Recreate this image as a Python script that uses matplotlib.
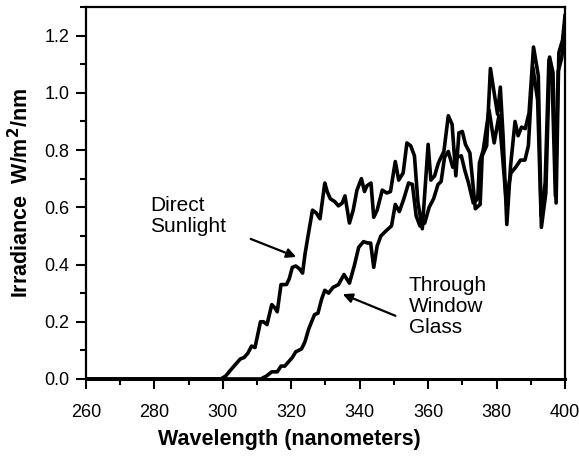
import numpy as np
import matplotlib
matplotlib.use("Agg")
import matplotlib.pyplot as plt
from matplotlib.ticker import MultipleLocator, FormatStrFormatter

# Direct sunlight spectrum (nm, W/m2/nm)
direct_wl = [260, 299.4, 300.8, 302.9, 305.1, 306.2, 307.3, 308.4, 309.4, 311.0, 311.9,
             312.9, 314.3, 315.1, 315.9, 317.0, 318.6, 319.4, 320.3, 321.3, 322.4, 323.3,
             324.0, 324.9, 326.2, 327.3, 328.4, 329.8, 330.5, 331.4, 332.7, 333.8, 334.9,
             335.7, 337.0, 338.1, 339.2, 340.5, 341.4, 342.1, 343.3, 344.1, 345.1, 346.6,
             347.9, 349.0, 350.4, 351.4, 352.7, 353.8, 354.9, 356.0, 357.0, 358.3, 360.0,
             360.8, 361.9, 363.0, 364.0, 364.6, 365.9, 367.0, 368.1, 369.0, 370.0, 370.9,
             372.2, 373.8, 375.2, 375.8, 377.1, 378.2, 379.3, 380.3, 381.1, 381.9, 383.0,
             384.1, 385.4, 386.3, 387.3, 388.4, 389.5, 390.8, 392.2, 393.1, 394.4, 395.5,
             396.5, 397.4, 398.2, 399.3, 400.0]
direct_irr = [0.0, 0.0, 0.01, 0.04, 0.07, 0.075, 0.09, 0.115, 0.11, 0.2, 0.2,
              0.19, 0.26, 0.25, 0.235, 0.33, 0.33, 0.35, 0.39, 0.395, 0.385, 0.37,
              0.435, 0.5, 0.59, 0.58, 0.56, 0.685, 0.655, 0.63, 0.62, 0.605, 0.615,
              0.64, 0.545, 0.59, 0.66, 0.70, 0.655, 0.675, 0.685, 0.565, 0.59, 0.66,
              0.65, 0.655, 0.76, 0.695, 0.72, 0.825, 0.815, 0.78, 0.62, 0.525, 0.82,
              0.695, 0.71, 0.755, 0.78, 0.795, 0.92, 0.89, 0.71, 0.86, 0.865, 0.82,
              0.79, 0.595, 0.61, 0.78, 0.815, 1.085, 1.0, 0.925, 1.02, 0.85, 0.54,
              0.745, 0.9, 0.85, 0.88, 0.875, 0.93, 1.16, 1.06, 0.53, 0.65, 1.125,
              1.07, 0.615, 1.14, 1.185, 1.27]

# Through window glass spectrum
window_wl = [260, 311.1, 312.7, 314.3, 315.9, 317.0, 318.1, 319.2, 320.3, 321.3, 323.0,
             324.0, 325.1, 326.8, 327.8, 328.9, 329.8, 330.9, 332.2, 333.8, 335.4, 337.0,
             338.4, 339.7, 341.1, 342.4, 343.2, 344.1, 345.1, 346.2, 347.9, 349.3, 350.4,
             351.6, 352.9, 354.3, 355.4, 356.5, 357.6, 359.0, 360.3, 361.6, 362.9, 363.8,
             364.8, 365.9, 367.2, 368.3, 369.7, 370.7, 371.8, 373.2, 374.5, 375.0, 376.1,
             377.8, 379.3, 380.7, 381.6, 382.8, 384.2, 385.6, 387.0, 388.3, 389.3, 390.6,
             392.0, 393.0, 394.2, 395.3, 396.3, 397.2, 398.0, 399.0, 400.0]
window_irr = [0.0, 0.0, 0.01, 0.025, 0.025, 0.045, 0.045, 0.06, 0.075, 0.095, 0.105,
              0.13, 0.175, 0.225, 0.23, 0.28, 0.31, 0.30, 0.32, 0.33, 0.365, 0.335,
              0.395, 0.46, 0.48, 0.475, 0.475, 0.39, 0.465, 0.50, 0.52, 0.535, 0.61,
              0.585, 0.63, 0.685, 0.68, 0.57, 0.535, 0.545, 0.60, 0.63, 0.68, 0.69,
              0.775, 0.795, 0.74, 0.775, 0.78, 0.73, 0.685, 0.615, 0.63, 0.755, 0.80,
              0.94, 0.825, 0.92, 0.80, 0.625, 0.72, 0.74, 0.765, 0.765, 0.815, 1.09,
              0.975, 0.57, 0.685, 1.115, 1.02, 0.64, 1.075, 1.12, 1.21]

plt.rcParams['font.family'] = ['Liberation Sans', 'DejaVu Sans']

fig = plt.figure(figsize=(5.79, 4.57), dpi=100)
ax = fig.add_axes([0.1485, 0.1707, 0.8273, 0.814])

ax.plot(direct_wl, direct_irr, color='black', lw=2.6, solid_joinstyle='round')
ax.plot(window_wl, window_irr, color='black', lw=2.6, solid_joinstyle='round')

ax.set_xlim(260, 400)
ax.set_ylim(0, 1.3)
ax.xaxis.set_major_locator(MultipleLocator(20))
ax.xaxis.set_minor_locator(MultipleLocator(10))
ax.yaxis.set_major_locator(MultipleLocator(0.2))
ax.yaxis.set_minor_locator(MultipleLocator(0.1))
ax.yaxis.set_major_formatter(FormatStrFormatter('%.1f'))
ax.tick_params(which='major', direction='out', length=7, width=1.5, labelsize=13)
ax.tick_params(which='minor', direction='out', length=4, width=1.5)
ax.tick_params(axis='x', which='major', pad=11)
ax.tick_params(axis='y', which='major', pad=5)
for s in ax.spines.values():
    s.set_linewidth(1.6)
ax.spines['bottom'].set_linewidth(2.2)

ax.set_xlabel('Wavelength (nanometers)', fontsize=15.5, fontweight='bold', labelpad=12)
ax.xaxis.set_label_coords(0.425, -0.135)
ax.set_ylabel('Irradiance  W/m$^\\mathbf{2}$/nm', fontsize=15.5, fontweight='bold', labelpad=8)

ax.text(278.7, 0.64, 'Direct\nSunlight', fontsize=15, ha='left', va='top',
        linespacing=1.15)
ax.annotate('', xy=(322.2, 0.423), xytext=(307.4, 0.493),
            arrowprops=dict(arrowstyle='-|>', color='black', lw=1.6,
                            mutation_scale=14))
ax.text(354.4, 0.36, 'Through\nWindow\nGlass', fontsize=15, ha='left', va='top',
        linespacing=1.15)
ax.annotate('', xy=(334.3, 0.30), xytext=(351.2, 0.217),
            arrowprops=dict(arrowstyle='-|>', color='black', lw=1.6,
                            mutation_scale=14))

fig.savefig('out.png', dpi=100)
